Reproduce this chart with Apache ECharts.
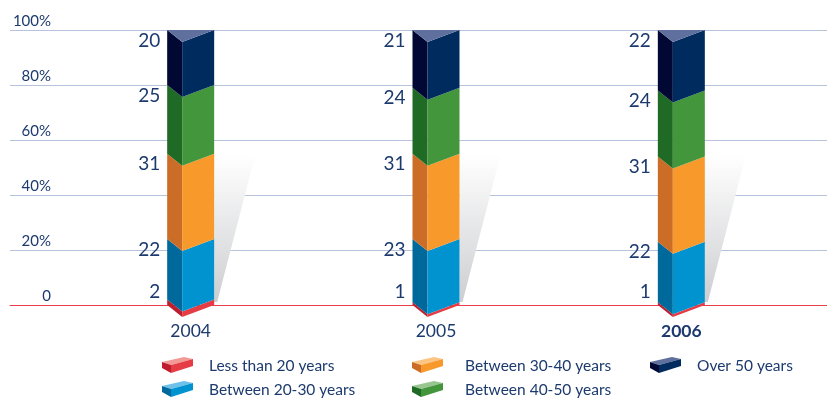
<!DOCTYPE html>
<html>
<head>
<meta charset="utf-8">
<script src="https://cdn.jsdelivr.net/npm/echarts@6/dist/echarts.min.js"></script>
<style>
html,body{margin:0;padding:0;background:#fff;}
#chart{width:827px;height:401px;}
</style>
</head>
<body>
<div id="chart"></div>
<script>
// data
const years=['2004','2005','2006'];
const groups=['Less than 20 years','Between 20-30 years','Between 30-40 years','Between 40-50 years','Over 50 years'];
const less20=[2,1,1];
const age20to30=[22,23,22];
const age30to40=[31,31,31];
const age40to50=[25,24,24];
const over50=[20,21,22];
const yTicks=['0','20%','40%','60%','80%','100%'];

// faces: [front-right, left, top]
const faceColors=[
    ['#e63c45','#bf1e2e','#f29a95'],
    ['#0093cf','#00699b','#6ec1ea'],
    ['#f7992b','#cc6d27','#fcc583'],
    ['#43963c','#1f6a25','#99c591'],
    ['#002b5f','#000833','#5f6f9e']
];
const textColor='#1c3a6e';
const fontFamily='Lato, "Noto Sans", sans-serif';

const seriesData=years.map((y,i)=>[i,less20[i],age20to30[i],age30to40[i],age40to50[i],over50[i]]);

function renderBar(params,api){
    const cat=api.value(0);
    const vals=[1,2,3,4,5].map(d=>api.value(d));
    const cx=api.coord([cat,0])[0];
    const xL=cx-23.5,xF=xL+15,xR=xL+47,dip=12;
    const y0=api.coord([cat,0])[1];
    const yS=api.coord([cat,54.5])[1];
    const children=[];
    // soft shadow to the right
    children.push({
        type:'polygon',
        shape:{points:[[xR,yS],[xR+41,yS],[xR+3,y0-3],[xR,y0-3]]},
        style:{fill:new echarts.graphic.LinearGradient(0,0,0,1,[
            {offset:0,color:'rgba(255,255,255,1)'},
            {offset:1,color:'#cdced1'}
        ])}
    });
    let acc=0;
    vals.forEach((v,i)=>{
        const yA=api.coord([cat,acc])[1];
        acc+=v;
        const yB=api.coord([cat,acc])[1];
        children.push({
            type:'polygon',
            shape:{points:[[xL,yB],[xF,yB+dip],[xF,yA+dip],[xL,yA]]},
            style:{fill:faceColors[i][1]}
        });
        children.push({
            type:'polygon',
            shape:{points:[[xF,yB+dip],[xR,yB],[xR,yA],[xF,yA+dip]]},
            style:{fill:faceColors[i][0]}
        });
        children.push({
            type:'text',
            style:{
                text:String(v),
                x:xL-7,
                y:Math.min(yB+10.5,yA-13.5),
                align:'right',
                verticalAlign:'middle',
                fill:textColor,
                font:'19px '+fontFamily
            }
        });
    });
    const yTop=api.coord([cat,acc])[1];
    children.push({
        type:'polygon',
        shape:{points:[[xL,yTop],[xR,yTop],[xF,yTop+dip]]},
        style:{fill:faceColors[4][2]}
    });
    return {type:'group',children};
}

// legend built from the group names
const legendCols=[[162,209],[412,465],[650,697]];
const legendRows=[357,381];
const legendGraphics=groups.map((name,i)=>{
    const col=Math.floor(i/2),row=i%2;
    const c=faceColors[i];
    return {
        type:'group',
        x:legendCols[col][0],
        y:legendRows[row],
        children:[
            {type:'polygon',shape:{points:[[0,5],[22,0],[31,2],[9,8]]},style:{fill:c[2]}},
            {type:'polygon',shape:{points:[[0,5],[9,8],[9,16],[0,11]]},style:{fill:c[1]}},
            {type:'polygon',shape:{points:[[9,8],[31,2],[31,9],[9,16]]},style:{fill:c[0]}},
            {type:'text',x:legendCols[col][1]-legendCols[col][0],y:9,
             style:{text:name,fill:textColor,font:'15.5px '+fontFamily,verticalAlign:'middle'}}
        ]
    };
});

const chart=echarts.init(document.getElementById('chart'));
chart.setOption({
    animation:false,
    grid:[
        {left:10,right:0,top:30,bottom:96},
        {left:68,right:23,top:30,bottom:96}
    ],
    xAxis:[
        {type:'value',gridIndex:0,min:0,max:1,show:true,
         axisLine:{show:true,lineStyle:{color:'#e8414d',width:1}},
         axisTick:{show:false},axisLabel:{show:false},splitLine:{show:false}},
        {type:'category',gridIndex:1,data:years,
         axisLine:{show:false},axisTick:{show:false},
         axisLabel:{
             margin:17,
             formatter:(v,i)=>i===2?'{b|'+v+'}':'{n|'+v+'}',
             rich:{
                 n:{fontSize:17.5,color:textColor,fontFamily:fontFamily},
                 b:{fontSize:17.5,color:textColor,fontFamily:fontFamily,fontWeight:'bold'}
             }
         }}
    ],
    yAxis:[
        {type:'value',gridIndex:0,min:0,max:100,interval:20,
         axisLine:{show:false},axisTick:{show:false},
         splitLine:{lineStyle:{color:'#b7c3dc',width:1}},
         axisLabel:{
             inside:true,margin:41,align:'right',verticalAlign:'bottom',
             padding:[0,0,1,0],
             formatter:v=>yTicks[Math.round(v/20)],
             color:textColor,fontSize:15,fontFamily:fontFamily
         }},
        {type:'value',gridIndex:1,min:0,max:100,show:false}
    ],
    series:[{
        type:'custom',
        xAxisIndex:1,
        yAxisIndex:1,
        renderItem:renderBar,
        encode:{x:0,y:[1,2,3,4,5]},
        data:seriesData,
        clip:false,
        z:3
    }],
    graphic:legendGraphics
});
</script>
</body>
</html>
